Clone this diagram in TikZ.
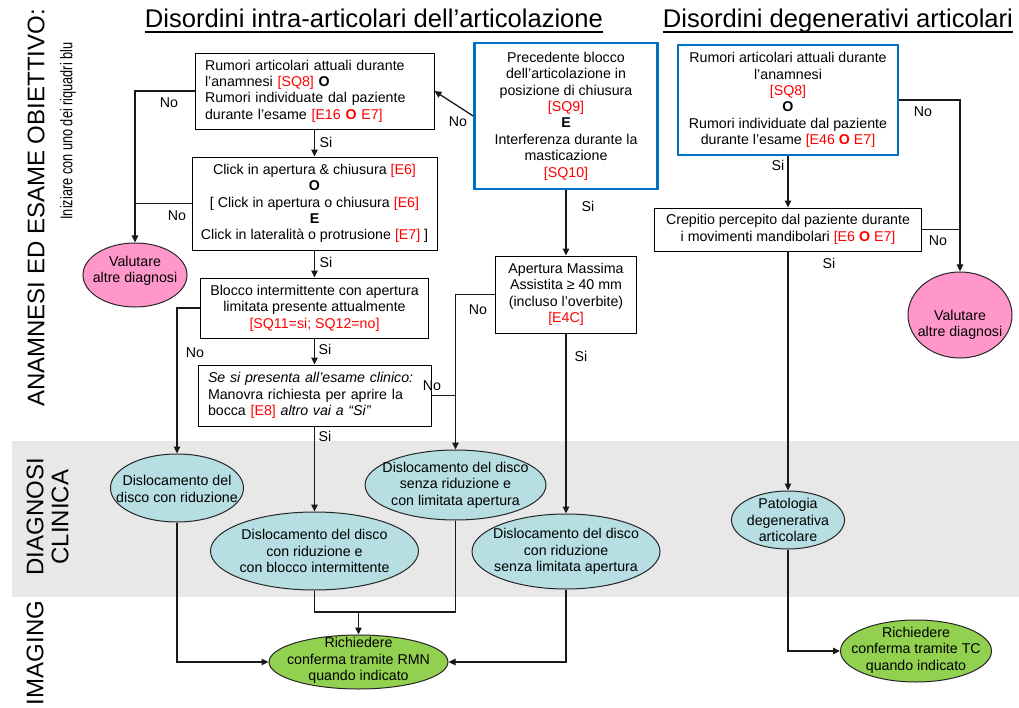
\documentclass[tikz,border=0pt]{standalone}
\usepackage{fontspec}
\setmainfont{Liberation Sans}
\newfontfamily\narrowsans[FakeStretch=0.75]{Liberation Sans}
\usetikzlibrary{shapes.geometric,arrows.meta}
\definecolor{boxblue}{RGB}{0,112,192}
\definecolor{bandgray}{RGB}{232,232,232}
\definecolor{pinkf}{RGB}{255,151,203}
\definecolor{cyanf}{RGB}{183,222,226}
\definecolor{greenf}{RGB}{146,208,80}
\definecolor{redt}{RGB}{255,0,0}
\newcommand\boxfont{\fontsize{14.2}{16.4}\selectfont}
\newcommand\rtx[1]{\textcolor{redt}{#1}}
\begin{document}
\begin{tikzpicture}[x=1pt,y=-1pt,
 box/.style={draw=black, line width=0.9pt, fill=white, align=center, font=\boxfont, inner sep=0pt},
 bbox/.style={box, draw=boxblue, line width=2.6pt},
 ell/.style={ellipse, draw=black!85, line width=1pt, inner sep=0pt},
 txt/.style={font=\boxfont, align=center, inner sep=0pt},
 lbl/.style={font=\boxfont, inner sep=0pt},
 conn/.style={line width=1.3pt, draw=black!90},
 arr/.style={conn, -{Triangle[length=7pt,width=6.5pt]}},
 ttl/.style={font=\fontsize{25.6}{30}\selectfont, inner sep=0pt, anchor=base},
 side/.style={font=\fontsize{24}{25}\selectfont, rotate=90, inner sep=0pt, align=center},
]
\useasboundingbox (0,0) rectangle (1019,708);
\fill[white] (0,0) rectangle (1019,708);
\fill[bandgray] (12,441) rectangle (1019,597);

% titles
\node[ttl] (t1) at (374,28) {Disordini intra-articolari dell’articolazione};
\draw[line width=1.1pt] ([yshift=-4pt]t1.base west) -- ([yshift=-4pt]t1.base east);
\node[ttl] (t2) at (838,28) {Disordini degenerativi articolari};
\draw[line width=1.1pt] ([yshift=-4pt]t2.base west) -- ([yshift=-4pt]t2.base east);

% side labels
\node[side] (s1) at (36,208) {ANAMNESI ED ESAME OBIETTIVO:};
\node[rotate=90, inner sep=0pt, font=\narrowsans\fontsize{17}{20}\selectfont] (s2) at (68,131) {Iniziare con uno dei riquadri blu};
\node[side] (s3) at (47.5,517) {DIAGNOSI\\CLINICA};
\node[side] (s4) at (35,653) {IMAGING};

% boxes
\node[box, minimum width=239pt, minimum height=76pt, text width=219pt, align=left] (b1) at (314.5,91)
 {Rumori articolari attuali durante\\ l’anamnesi \rtx{[SQ8]} \textbf{O}\\ Rumori individuate dal paziente\\ durante l’esame \rtx{[E16 \textbf{O} E7]}};
\node[box, minimum width=245pt, minimum height=93pt] (b2) at (314.5,203.5)
 {Click in apertura \& chiusura \rtx{[E6]}\\ \textbf{O}\\ {[} Click in apertura o chiusura \rtx{[E6]}\\ \textbf{E}\\ Click in lateralità o protrusione \rtx{[E7]} ]};
\node[box, minimum width=228pt, minimum height=60pt] (b3) at (314.5,308)
 {Blocco intermittente con apertura\\ limitata presente attualmente\\ \rtx{[SQ11=si; SQ12=no]}};
\node[box, minimum width=233pt, minimum height=61pt, text width=213pt, align=left] (b4) at (314.5,395.5)
 {\textit{Se si presenta all’esame clinico:}\\ Manovra richiesta per aprire la\\ bocca \rtx{[E8]} \textit{altro vai a “Si”}};
\node[bbox, minimum width=183pt, minimum height=146pt] (b5) at (566,116)
 {Precedente blocco\\ dell’articolazione in\\ posizione di chiusura\\ \rtx{[SQ9]}\\ \textbf{E}\\ Interferenza durante la\\ masticazione\\ \rtx{[SQ10]}};
\node[box, minimum width=141pt, minimum height=77pt] (b6) at (566,294.5)
 {Apertura Massima\\ Assistita ≥ 40 mm\\ (incluso l’overbite)\\ \rtx{[E4C]}};
\node[bbox, minimum width=220pt, minimum height=110pt] (b7) at (788,100)
 {Rumori articolari attuali durante\\ l’anamnesi\\ \rtx{[SQ8]}\\ \textbf{O}\\ Rumori individuate dal paziente\\ durante l’esame \rtx{[E46 \textbf{O} E7]}};
\node[box, minimum width=267pt, minimum height=43pt] (b8) at (788,229.5)
 {Crepitio percepito dal paziente durante\\ i movimenti mandibolari \rtx{[E6 \textbf{O} E7]}};

% ellipses
\node[ell, fill=pinkf, minimum width=104pt, minimum height=64pt] (e1) at (135,275) {};
\node[txt] (e1t) at (135,271) {Valutare\\altre diagnosi};
\node[ell, fill=pinkf, minimum width=104pt, minimum height=86pt] (e2) at (960,315) {};
\node[txt] (e2t) at (960,325) {Valutare\\altre diagnosi};

\node[ell, fill=cyanf, minimum width=133pt, minimum height=68pt] (c1) at (177,488) {};
\node[txt] (c1t) at (177,489) {Dislocamento del\\disco con riduzione};
\node[ell, fill=cyanf, minimum width=208pt, minimum height=78pt] (c2) at (314.5,551) {};
\node[txt] (c2t) at (314.5,551) {Dislocamento del disco\\con riduzione e\\con blocco intermittente};
\node[ell, fill=cyanf, minimum width=181pt, minimum height=70pt] (c3) at (455.5,485) {};
\node[txt] (c3t) at (455.5,485) {Dislocamento del disco\\senza riduzione e\\con limitata apertura};
\node[ell, fill=cyanf, minimum width=188pt, minimum height=75pt] (c4) at (566,551.5) {};
\node[txt] (c4t) at (566,551.5) {Dislocamento del disco\\con riduzione\\senza limitata apertura};
\node[ell, fill=cyanf, minimum width=113pt, minimum height=58pt] (c5) at (788,520) {};
\node[txt] (c5t) at (788,520) {Patologia\\degenerativa\\articolare};

\node[ell, fill=greenf, minimum width=179pt, minimum height=54pt] (g1) at (358.5,662) {};
\node[txt] (g1t) at (358.5,660.5) {Richiedere\\conferma tramite RMN\\quando indicato};
\node[ell, fill=greenf, minimum width=151pt, minimum height=62pt] (g2) at (916,651) {};
\node[txt] (g2t) at (916,650) {Richiedere\\conferma tramite TC\\quando indicato};

% connectors
\draw[arr] (b5.west) -- (b1.east);
\draw[arr] (b1.west) -| (e1.north);
\draw[conn] (b2.west) -- (b2.west -| e1.north);
\draw[arr] (b1.south) -- (b2.north);
\draw[arr] (b2.south) -- (b3.north);
\draw[arr] (b3.south) -- (b4.north);
\draw[arr] (b3.west) -| (c1.north);
\draw[arr] (b6.west) -| (c3.north);
\draw[conn] (b4.east) -- (b4.east -| c3.north);
\draw[arr] (b4.south) -- (c2.north);
\draw[arr] (b5.south) -- (b6.north);
\draw[arr] (b6.south) -- (c4.north);
\draw[arr] (b7.south) -- (b8.north);
\draw[arr] (b7.east) -| (e2.north);
\draw[conn] (b8.east) -- (b8.east -| e2.north);
\draw[arr] (b8.south) -- (c5.north);
\draw[arr] (c5.south) |- (g2.west);
\draw[arr] (c1.south) |- (g1.west);
\draw[arr] (c4.south) |- (g1.east);
\coordinate (m1) at (358.5,612);
\draw[conn] (c2.south) -- (c2.south |- m1) -- (c3.south |- m1) -- (c3.south);
\draw[arr] (m1) -- (g1.north);

% connector labels
\node[lbl] (l1) at (458,122) {No};
\node[lbl] (l2) at (169,103) {No};
\node[lbl] (l3) at (177,216) {No};
\node[lbl] (l4) at (326,142) {Si};
\node[lbl] (l5) at (326,262) {Si};
\node[lbl] (l6) at (325,349) {Si};
\node[lbl] (l7) at (195,353) {No};
\node[lbl] (l8) at (432,386) {No};
\node[lbl] (l9) at (478,310) {No};
\node[lbl] (l10) at (325,436) {Si};
\node[lbl] (l11) at (588,206) {Si};
\node[lbl] (l12) at (581,356) {Si};
\node[lbl] (l13) at (923,112) {No};
\node[lbl] (l14) at (938,241) {No};
\node[lbl] (l15) at (778,165) {Si};
\node[lbl] (l16) at (829,263) {Si};
\end{tikzpicture}
\end{document}
